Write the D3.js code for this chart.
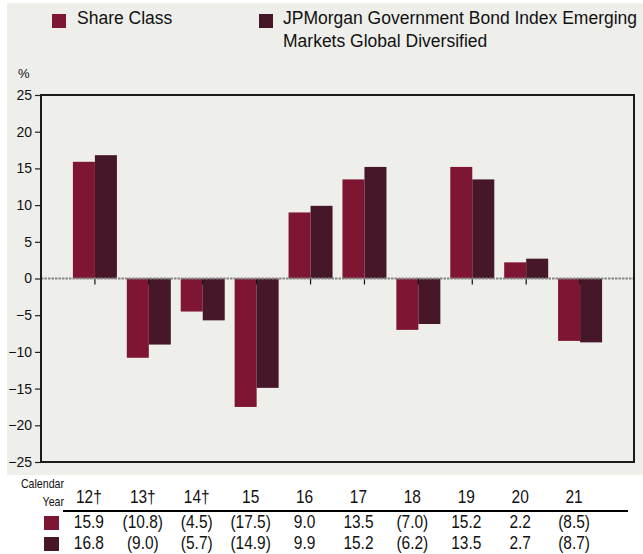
<!DOCTYPE html>
<html>
<head>
<meta charset="utf-8">
<script src="https://cdn.jsdelivr.net/npm/d3@7"></script>
<style>
  body { margin: 0; background: #fff; }
  text { font-family: "Liberation Sans", Arial, sans-serif; fill: #111; }
</style>
</head>
<body>
<svg id="chart" width="643" height="554"></svg>
<script>
// data
var years = ['12†', '13†', '14†', '15', '16', '17', '18', '19', '20', '21'];
var shareClass = [15.9, -10.8, -4.5, -17.5, 9.0, 13.5, -7.0, 15.2, 2.2, -8.5];
var benchmark = [16.8, -9.0, -5.7, -14.9, 9.9, 15.2, -6.2, 13.5, 2.7, -8.7];
var seriesNames = ['Share Class', 'JPMorgan Government Bond Index Emerging', 'Markets Global Diversified'];
var yTicks = [-25, -20, -15, -10, -5, 0, 5, 10, 15, 20, 25];

var colors = ['#7e1633', '#461729'];

var svg = d3.select('#chart');

// text in the table is a condensed face; squeeze it horizontally
function squeeze(sel, px, py, sx) {
    sel.attr('transform', function(d, i) {
        return 'translate(' + px(d, i) + ',' + py + ') scale(' + sx + ',1)';
    });
}

// grey panel
svg.append('rect')
    .attr('x', 7).attr('y', 3)
    .attr('width', 636).attr('height', 472)
    .attr('fill', '#eeeeea');

var plot = {l: 41, r: 634, t: 95, b: 462};

var x = d3.scalePoint()
    .domain(years)
    .range([plot.l, plot.r])
    .padding(1);

var y = d3.scaleLinear()
    .domain([-25, 25])
    .range([plot.b, plot.t]);

var barW = 22;

// y axis
var yAxis = svg.append('g')
    .attr('transform', 'translate(' + plot.l + ',0)')
    .call(d3.axisLeft(y).tickValues(yTicks).tickSize(6).tickPadding(3));
yAxis.select('.domain').remove();
yAxis.selectAll('line').attr('stroke', '#222').attr('stroke-width', 1.2);
yAxis.selectAll('text')
    .style('font-size', '14px')
    .attr('fill', '#111');

svg.append('text')
    .attr('x', 18).attr('y', 78)
    .style('font-size', '13px')
    .text('%');

// bars
var groups = svg.selectAll('.yr')
    .data(years)
    .enter()
    .append('g')
    .attr('class', 'yr');

groups.append('rect')
    .attr('x', function(d) { return x(d) - barW; })
    .attr('y', function(d, i) { return y(Math.max(0, shareClass[i])); })
    .attr('width', barW)
    .attr('height', function(d, i) { return Math.abs(y(shareClass[i]) - y(0)); })
    .attr('fill', colors[0]);

groups.append('rect')
    .attr('x', function(d) { return x(d); })
    .attr('y', function(d, i) { return y(Math.max(0, benchmark[i])); })
    .attr('width', barW)
    .attr('height', function(d, i) { return Math.abs(y(benchmark[i]) - y(0)); })
    .attr('fill', colors[1]);

// zero line
svg.append('line')
    .attr('x1', plot.l).attr('x2', plot.r)
    .attr('y1', y(0)).attr('y2', y(0))
    .attr('stroke', '#858585')
    .attr('stroke-width', 2)
    .attr('stroke-dasharray', '2.5,1');

// category ticks on zero line
groups.append('line')
    .attr('x1', function(d) { return x(d); })
    .attr('x2', function(d) { return x(d); })
    .attr('y1', y(0))
    .attr('y2', y(0) + 6)
    .attr('stroke', '#111')
    .attr('stroke-width', 1.2);

// frame
svg.append('rect')
    .attr('x', plot.l).attr('y', plot.t)
    .attr('width', plot.r - plot.l).attr('height', plot.b - plot.t)
    .attr('fill', 'none')
    .attr('stroke', '#1a1a1a')
    .attr('stroke-width', 2);

// legend
var legend = svg.append('g');
legend.append('rect').attr('x', 52).attr('y', 14).attr('width', 14).attr('height', 14).attr('fill', colors[0]);
legend.append('text').attr('x', 77).attr('y', 24).style('font-size', '17.5px').text(seriesNames[0]);
legend.append('rect').attr('x', 259).attr('y', 14).attr('width', 14).attr('height', 14).attr('fill', colors[1]);
legend.append('text').attr('x', 283).attr('y', 24).style('font-size', '17.5px').text(seriesNames[1]);
legend.append('text').attr('x', 283).attr('y', 47).style('font-size', '17.5px').text(seriesNames[2]);

// table below the chart
function fmt(v) {
    return v < 0 ? '(' + d3.format('.1f')(-v) + ')' : d3.format('.1f')(v);
}
var tx = function(d) { return x(d) - 6; };

svg.append('text')
    .attr('text-anchor', 'end')
    .style('font-size', '12.5px').text('Calendar')
    .call(squeeze, function() { return 64; }, 488, 0.85);
svg.append('text')
    .attr('text-anchor', 'end')
    .style('font-size', '12.5px').text('Year')
    .call(squeeze, function() { return 64; }, 506, 0.85);

svg.selectAll('.hdr')
    .data(years)
    .enter()
    .append('text')
    .attr('class', 'hdr')
    .attr('text-anchor', 'middle')
    .style('font-size', '18px')
    .text(function(d) { return d; })
    .call(squeeze, tx, 503, 0.86);

svg.append('line')
    .attr('x1', 63).attr('x2', 628)
    .attr('y1', 511).attr('y2', 511)
    .attr('stroke', '#000').attr('stroke-width', 2);

[shareClass, benchmark].forEach(function(series, k) {
    var rowY = k == 0 ? 528 : 549;
    svg.append('rect')
        .attr('x', 44).attr('y', rowY - 12)
        .attr('width', 15).attr('height', 14)
        .attr('fill', colors[k]);
    svg.selectAll('.row' + k)
        .data(years)
        .enter()
        .append('text')
        .attr('class', 'row' + k)
        .attr('text-anchor', 'middle')
        .style('font-size', '18px')
        .text(function(d, i) { return fmt(series[i]); })
        .call(squeeze, tx, rowY, 0.86);
});
</script>
</body>
</html>
